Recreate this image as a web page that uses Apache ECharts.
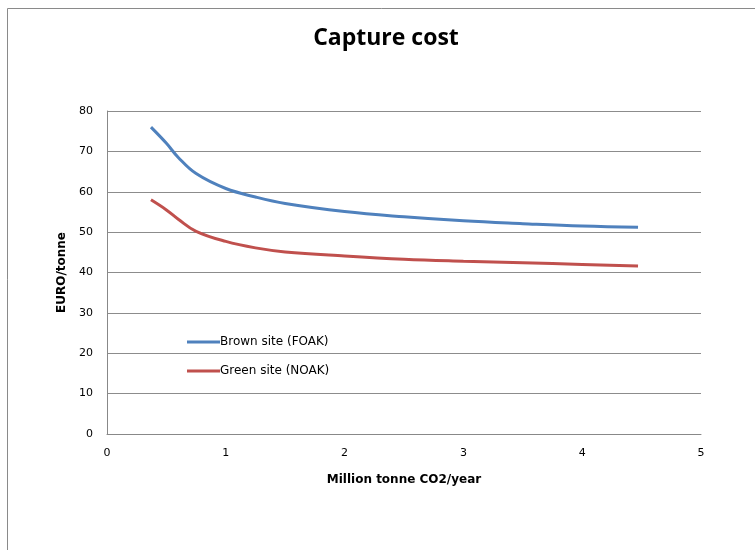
<!DOCTYPE html>
<html><head><meta charset="utf-8">
<script src="https://cdn.jsdelivr.net/npm/echarts@6/dist/echarts.min.js"></script>
<style>html,body{margin:0;padding:0;background:#fff}#c{width:755px;height:550px}</style>
</head><body><div id="c"></div>
<script>
const xValues = [0.37, 0.5, 0.6, 0.75, 1.0, 1.25, 1.5, 2.0, 2.5, 3.0, 3.5, 4.0, 4.47];
const brownSite = [76, 72, 68.5, 64.5, 60.8, 58.7, 57.1, 55.1, 53.8, 52.8, 52.1, 51.5, 51.2];
const greenSite = [58, 55.5, 53.2, 50.2, 47.7, 46.1, 45.1, 44.1, 43.3, 42.8, 42.4, 42.0, 41.6];
const seriesNames = ['Brown site (FOAK)', 'Green site (NOAK)'];
const titleText = 'Capture cost';
const xName = 'Million tonne CO2/year';
const yName = 'EURO/tonne';

const pairs = (ys) => xValues.map((x, i) => [x, ys[i]]);
const chart = echarts.init(document.getElementById('c'), null, {renderer: 'canvas'});
const font = 'DejaVu Sans';
chart.setOption({
  backgroundColor: '#fff',
  animation: false,
  graphic: [{type: 'rect', shape: {x: 7.5, y: 8.5, width: 900, height: 700}, style: {fill: 'none', stroke: '#8a8a8a', lineWidth: 1}}],
  title: {text: titleText, left: 381, textAlign: 'center', top: 22,
    textStyle: {fontFamily: 'Open Sans', fontWeight: 'bold', fontSize: 23, color: '#000'}},
  grid: {left: 107, right: 54, top: 111, bottom: 116, containLabel: false},
  legend: {orient: 'vertical', left: 182, top: 331, icon: 'rect', itemWidth: 33, itemHeight: 3, itemGap: 17,
    textStyle: {fontFamily: font, fontSize: 12, color: '#000', padding: [0,0,0,-5]},
    data: seriesNames},
  xAxis: {type: 'value', min: 0, max: 5, interval: 1,
    name: xName, nameLocation: 'middle', nameGap: 40,
    nameTextStyle: {fontFamily: font, fontWeight: 'bold', fontSize: 12, color: '#000'},
    axisLine: {show: true, lineStyle: {color: '#888', width: 1}},
    axisTick: {show: false},
    axisLabel: {fontFamily: font, fontSize: 11, color: '#000', margin: 14},
    splitLine: {show: false}},
  yAxis: {type: 'value', min: 0, max: 80, interval: 10,
    name: yName, nameLocation: 'middle', nameGap: 36, nameRotate: 90,
    nameTextStyle: {fontFamily: font, fontWeight: 'bold', fontSize: 12, color: '#000'},
    axisLine: {show: true, lineStyle: {color: '#888', width: 1}},
    axisTick: {show: false},
    axisLabel: {fontFamily: font, fontSize: 11, color: '#000', margin: 14},
    splitLine: {show: true, lineStyle: {color: '#8c8c8c', width: 1}}},
  series: [
    {name: seriesNames[0], type: 'line', data: pairs(brownSite), smooth: 0.4, symbol: 'none',
      lineStyle: {color: '#4F81BD', width: 3}, itemStyle: {color: '#4F81BD'}},
    {name: seriesNames[1], type: 'line', data: pairs(greenSite), smooth: 0.4, symbol: 'none',
      lineStyle: {color: '#C0504D', width: 3}, itemStyle: {color: '#C0504D'}}
  ]
});
</script></body></html>
